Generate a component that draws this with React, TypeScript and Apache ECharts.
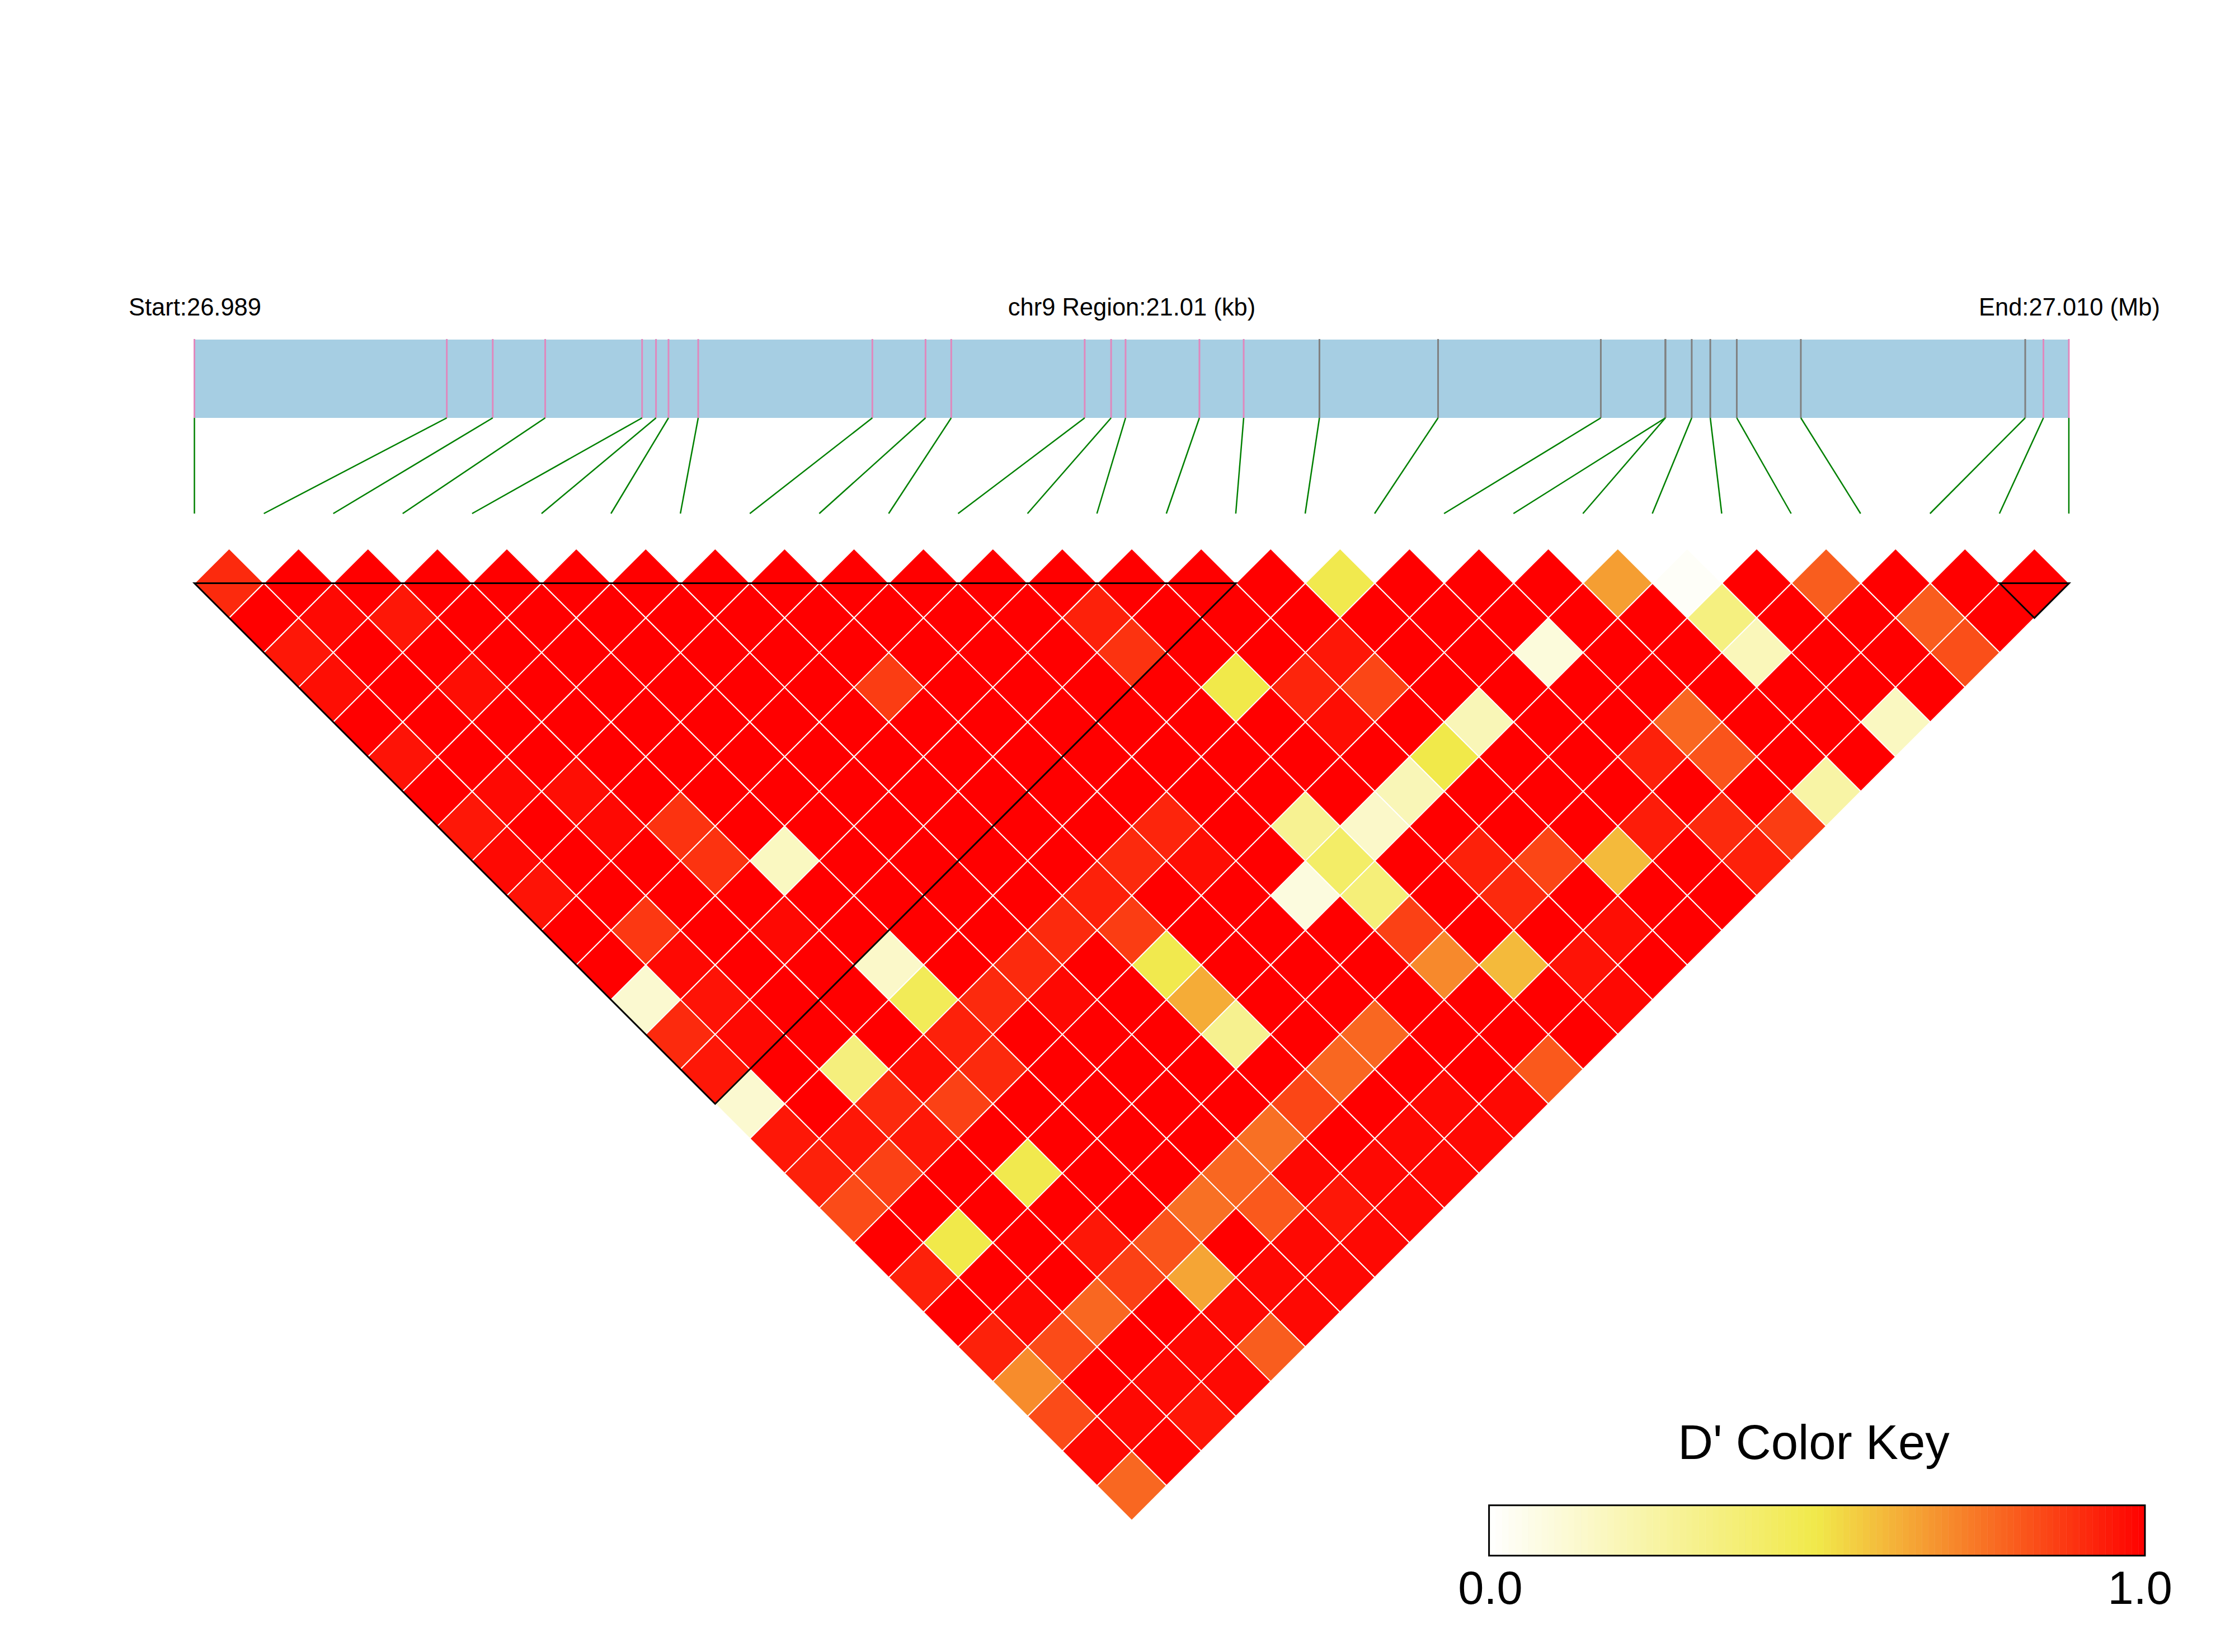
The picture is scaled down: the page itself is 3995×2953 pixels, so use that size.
import React, { useEffect, useRef } from "react";
import * as echarts from "echarts";

const WIDTH = 3995;
const HEIGHT = 2953;

// Physical SNP positions, kb from the region start
const snpKb = [
  0, 2.829, 3.344, 3.932, 5.018, 5.174, 5.314, 5.647, 7.599, 8.195, 8.483, 9.979, 10.275, 10.437,
  11.265, 11.761, 12.61, 13.94, 15.764, 16.488, 16.488, 16.783, 16.991, 17.288, 18.006, 20.521,
  20.725, 21.01,
];
const snpInBlock = [
  1, 1, 1, 1, 1, 1, 1, 1, 1, 1, 1, 1, 1, 1, 1, 1, 0, 0, 0, 0, 0, 0, 0, 0, 0, 0, 1, 1,
];
const regionKb = 21.01;
const ldBlocks = [
  [0, 15],
  [26, 27],
];

// D' per row: row k holds the pairs (i, i + k + 1)
const row0 = [.91,1,1,1,1,1,1,1,1,1,1,1,1,1,1,1,.49,1,1,1,.66,.02,1,.8,1,1,1];
const row1 = [1,.98,.95,1,1,1,1,1,1,1,1,1,.93,1,1,1,1,1,1,1,1,.35,1,1,.8,1];
const row2 = [.95,1,1,1,1,1,1,1,1,1,1,1,.89,1,1,.95,1,1,.1,1,1,.19,1,1,.83];
const row3 = [.97,1,.97,1,1,1,1,1,.87,1,1,1,1,.5,.92,.85,1,1,1,1,1,1,1,1];
const row4 = [1,1,1,1,1,1,1,1,1,1,1,1,1,1,.97,1,.2,1,1,.78,1,1,.17];
const row5 = [.96,1,1,1,1,1,1,1,1,1,1,1,1,1,1,.5,1,1,.93,.82,1,1];
const row6 = [1,.98,.97,1,1,1,1,1,1,1,1,1,1,1,.2,1,1,1,1,1,.25];
const row7 = [.95,1,.98,.89,1,1,1,1,1,1,.92,1,.3,.15,1,1,1,.94,.91,.87];
const row8 = [.98,1,1,.89,.17,1,1,1,1,.91,.97,1,.42,1,.93,.85,.6,1,.93];
const row9 = [.96,1,1,1,1,1,1,1,.93,1,1,.09,.37,1,.91,1,1,1];
const row10 = [1,.88,1,.98,1,1,1,.91,.87,1,1,1,.86,1,1,.97,1];
const row11 = [1,.98,1,1,.15,1,.91,1,.49,1,1,1,.705,.6,.96,1];
const row12 = [.13,.96,1,1,.46,.91,.98,1,.63,1,1,1,1,1,.98];
const row13 = [.91,.98,1,1,.93,1,1,1,.31,1,.78,1,1,1];
const row14 = [.95,1,.36,.97,.91,1,1,1,1,.78,1,1,.81];
const row15 = [.13,1,.91,.86,1,1,1,1,.85,1,.98,.98];
const row16 = [.95,.95,.95,1,1,1,1,.76,1,.98,.98];
const row17 = [.93,.86,1,.49,1,1,.78,.98,.98,.98];
const row18 = [.84,1,1,1,1,.76,.81,.95,.98];
const row19 = [1,.5,1,.95,.82,1,.98,.98];
const row20 = [.93,1,1,.86,.645,.98,.98];
const row21 = [1,.98,.78,1,.98,.98];
const row22 = [.93,.84,1,.98,.8];
const row23 = [.7,1,.98,.98];
const row24 = [.84,.98,.95];
const row25 = [.98,.99];
const row26 = [.78];
const dPrimeRows = [
  row0, row1, row2, row3, row4, row5, row6, row7, row8, row9, row10, row11, row12, row13, row14,
  row15, row16, row17, row18, row19, row20, row21, row22, row23, row24, row25, row26,
];

const keyStepCount = 100;
const keyTickLabels = ["0.0", "1.0"];
const keyTickPositions = [0.002, 0.9925];

const FONT = '"Liberation Sans", Arial, sans-serif';

export default function App() {
  const ref = useRef<HTMLDivElement>(null);

  useEffect(() => {
    const chart = echarts.init(ref.current!, null, { renderer: "svg" });

    const cells: number[][] = [];
    dPrimeRows.forEach((row, r) =>
      row.forEach((v, i) => cells.push([i + (r + 1) / 2, r, v]))
    );
    const keySteps = Array.from({ length: keyStepCount }, (_, k) => {
      const mid = (k + 0.5) / keyStepCount;
      return [mid, 0.5, mid];
    });
    const snpData = snpKb.map((kb, idx) => [kb, idx, snpInBlock[idx]]);
    const barTop = 311;
    const barBottom = 171;

    const option: any = {
      animation: false,
      backgroundColor: "#ffffff",
      textStyle: { fontFamily: FONT },
      grid: [
        { left: 347.5, width: 3351, top: 980.45, height: 28 * 62.05, containLabel: false },
        { left: 347.5, width: 3350.5, top: 607, height: 311, containLabel: false },
        { left: 2661.6, width: 1172.4, top: 2690.7, height: 90, containLabel: false },
      ],
      xAxis: [
        { type: "value", gridIndex: 0, min: 0, max: 27, show: false },
        { type: "value", gridIndex: 1, min: 0, max: regionKb, show: false },
        {
          type: "value",
          gridIndex: 2,
          min: 0,
          max: 1,
          interval: 1,
          axisLine: { show: false },
          axisTick: { show: false },
          splitLine: { show: false },
          axisLabel: {
            show: true,
            margin: 16,
            fontSize: 83,
            color: "#000",
            fontFamily: FONT,
            customValues: keyTickPositions,
            formatter: (v: number) => (v < 0.5 ? keyTickLabels[0] : keyTickLabels[1]),
          },
        },
      ],
      yAxis: [
        { type: "value", gridIndex: 0, min: -1, max: 27, inverse: true, show: false },
        { type: "value", gridIndex: 1, min: 0, max: barTop, show: false },
        { type: "value", gridIndex: 2, min: 0, max: 1, show: false },
      ],
      visualMap: {
        show: false,
        type: "continuous",
        min: 0,
        max: 1,
        dimension: 2,
        seriesIndex: [0, 5],
        inRange: { color: ["#FFFFFF", "#F1E94A", "#FF0000"] },
      },
      series: [
        {
          type: "custom",
          name: "D'",
          xAxisIndex: 0,
          yAxisIndex: 0,
          silent: true,
          clip: false,
          data: cells,
          renderItem: (_: any, api: any) => {
            const u = api.value(0);
            const v = api.value(1);
            return {
              type: "polygon",
              shape: {
                points: [
                  api.coord([u, v - 1]),
                  api.coord([u + 0.5, v]),
                  api.coord([u, v + 1]),
                  api.coord([u - 0.5, v]),
                ],
              },
              style: { fill: api.visual("color"), stroke: "#ffffff", lineWidth: 2 },
            };
          },
        },
        {
          type: "custom",
          name: "blocks",
          xAxisIndex: 0,
          yAxisIndex: 0,
          silent: true,
          clip: false,
          z: 5,
          data: ldBlocks,
          renderItem: (_: any, api: any) => {
            const a = api.value(0);
            const b = api.value(1);
            return {
              type: "polygon",
              shape: {
                points: [
                  api.coord([a, 0]),
                  api.coord([b, 0]),
                  api.coord([(a + b) / 2, b - a]),
                ],
              },
              style: { fill: "none", stroke: "#000000", lineWidth: 3 },
            };
          },
        },
        {
          type: "custom",
          name: "region",
          xAxisIndex: 1,
          yAxisIndex: 1,
          silent: true,
          clip: false,
          data: [[0, regionKb]],
          renderItem: (_: any, api: any) => {
            const p0 = api.coord([api.value(0), barTop]);
            const p1 = api.coord([api.value(1), barBottom]);
            return {
              type: "rect",
              shape: { x: p0[0], y: p0[1], width: p1[0] - p0[0], height: p1[1] - p0[1] },
              style: { fill: "#A6CEE3" },
            };
          },
        },
        {
          type: "custom",
          name: "snp ticks",
          xAxisIndex: 1,
          yAxisIndex: 1,
          silent: true,
          clip: false,
          z: 3,
          data: snpData,
          renderItem: (_: any, api: any) => {
            const kb = api.value(0);
            const p0 = api.coord([kb, barTop + 1]);
            const p1 = api.coord([kb, barBottom]);
            return {
              type: "line",
              shape: { x1: p0[0], y1: p0[1], x2: p1[0], y2: p1[1] },
              style: { stroke: api.value(2) ? "#E088BD" : "#808080", lineWidth: 3, fill: "none" },
            };
          },
        },
        {
          type: "custom",
          name: "snp links",
          xAxisIndex: 1,
          yAxisIndex: 1,
          silent: true,
          clip: false,
          z: 3,
          data: snpData,
          renderItem: (_: any, api: any) => {
            const kb = api.value(0);
            const idx = api.value(1);
            const p0 = api.coord([kb, barBottom]);
            const p1 = api.coord([(idx * regionKb) / (snpKb.length - 1), 0]);
            return {
              type: "line",
              shape: { x1: p0[0], y1: p0[1], x2: p1[0], y2: p1[1] },
              style: { stroke: "#008000", lineWidth: 2.5, fill: "none" },
            };
          },
        },
        {
          type: "custom",
          name: "color key",
          xAxisIndex: 2,
          yAxisIndex: 2,
          silent: true,
          clip: false,
          data: keySteps,
          renderItem: (_: any, api: any) => {
            const mid = api.value(0);
            const half = 0.5 / keyStepCount;
            const p0 = api.coord([mid - half, 1]);
            const p1 = api.coord([mid + half, 0]);
            const c = api.visual("color");
            return {
              type: "rect",
              shape: { x: p0[0], y: p0[1], width: p1[0] - p0[0], height: p1[1] - p0[1] },
              style: { fill: c, stroke: c, lineWidth: 0.5 },
            };
          },
        },
        {
          type: "custom",
          name: "color key frame",
          xAxisIndex: 2,
          yAxisIndex: 2,
          silent: true,
          clip: false,
          z: 5,
          data: [[0, 1]],
          renderItem: (_: any, api: any) => {
            const p0 = api.coord([api.value(0), 1]);
            const p1 = api.coord([api.value(1), 0]);
            return {
              type: "rect",
              shape: { x: p0[0], y: p0[1], width: p1[0] - p0[0], height: p1[1] - p0[1] },
              style: { fill: "none", stroke: "#000000", lineWidth: 3 },
            };
          },
        },
      ],
      graphic: [
        {
          type: "text",
          x: 230,
          y: 549,
          style: {
            text: "Start:26.989",
            fontSize: 43.5,
            fontFamily: FONT,
            fill: "#000",
            textAlign: "left",
            textVerticalAlign: "middle",
          },
        },
        {
          type: "text",
          x: 2023,
          y: 549,
          style: {
            text: "chr9 Region:21.01 (kb)",
            fontSize: 43.5,
            fontFamily: FONT,
            fill: "#000",
            textAlign: "center",
            textVerticalAlign: "middle",
          },
        },
        {
          type: "text",
          x: 3861,
          y: 549,
          style: {
            text: "End:27.010 (Mb)",
            fontSize: 43.5,
            fontFamily: FONT,
            fill: "#000",
            textAlign: "right",
            textVerticalAlign: "middle",
          },
        },
        {
          type: "text",
          x: 3242,
          y: 2577,
          style: {
            text: "D' Color Key",
            fontSize: 87,
            fontFamily: FONT,
            fill: "#000",
            textAlign: "center",
            textVerticalAlign: "middle",
          },
        },
      ],
    };

    chart.setOption(option);
    return () => chart.dispose();
  }, []);

  return (
    <div
      ref={ref}
      style={{ position: "absolute", left: 0, top: 0, width: WIDTH, height: HEIGHT, background: "#fff" }}
    />
  );
}
